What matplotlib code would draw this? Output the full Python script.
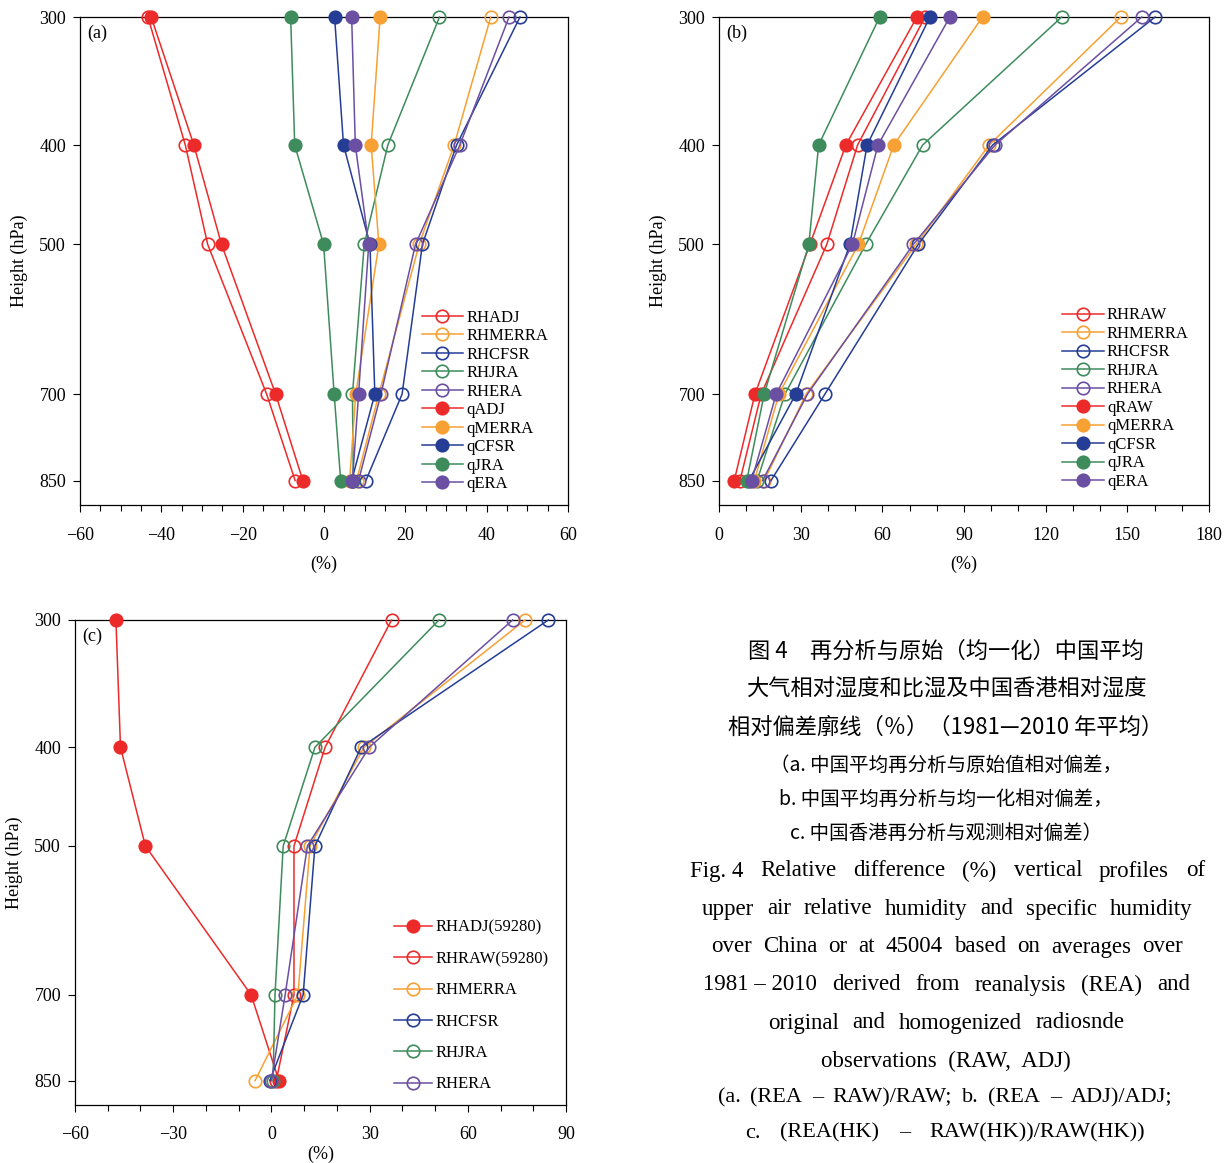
import matplotlib
matplotlib.use("Agg")
import matplotlib.pyplot as plt
from matplotlib.ticker import MultipleLocator, NullLocator, FixedLocator

plt.rcParams['font.family'] = ['Liberation Serif', 'DejaVu Serif']
plt.rcParams['axes.unicode_minus'] = True

levels = [300, 400, 500, 700, 850]
level_labels = ["300", "400", "500", "700", "850"]

# ---- panel (a): (REA - RAW)/RAW ----
a_RHADJ = [-43.3, -34.1, -28.6, -14.1, -7.1]
a_RHMERRA = [41.0, 32.0, 23.4, 13.5, 8.0]
a_RHCFSR = [48.2, 32.6, 24.2, 19.2, 10.3]
a_RHJRA = [28.4, 15.7, 9.9, 7.0, 7.2]
a_RHERA = [45.5, 33.4, 22.5, 14.0, 8.5]
a_qADJ = [-42.5, -32.0, -25.2, -11.9, -5.2]
a_qMERRA = [13.8, 11.6, 13.5, 7.8, 6.3]
a_qCFSR = [2.6, 4.8, 11.3, 12.5, 6.8]
a_qJRA = [-8.2, -7.2, -0.1, 2.5, 4.1]
a_qERA = [6.8, 7.7, 11.0, 8.5, 7.0]

# ---- panel (b): (REA - ADJ)/ADJ ----
b_RHRAW = [75.7, 50.9, 39.6, 15.5, 7.7]
b_RHMERRA = [147.6, 99.2, 72.4, 32.0, 16.6]
b_RHCFSR = [160.2, 100.5, 73.2, 38.9, 19.1]
b_RHJRA = [125.9, 74.8, 53.9, 24.2, 14.0]
b_RHERA = [155.3, 101.4, 71.4, 32.5, 16.0]
b_qRAW = [72.7, 46.6, 33.4, 13.2, 5.6]
b_qMERRA = [96.8, 64.2, 51.2, 22.0, 13.0]
b_qCFSR = [77.5, 54.4, 48.1, 28.2, 11.0]
b_qJRA = [59.0, 36.6, 33.0, 16.6, 10.2]
b_qERA = [84.8, 58.4, 49.0, 21.0, 12.0]

# ---- panel (c): Hong Kong ----
c_RHADJ = [-47.5, -46.1, -38.5, -6.2, 2.3]
c_RHRAW = [36.7, 16.4, 6.9, 6.9, 1.5]
c_RHMERRA = [77.5, 28.3, 11.8, 8.1, -5.0]
c_RHCFSR = [84.6, 27.4, 13.3, 9.7, -0.5]
c_RHJRA = [51.2, 13.3, 3.6, 1.1, 0.5]
c_RHERA = [73.7, 29.9, 11.0, 4.2, 0.0]

RED = '#ED2A2A'
ORANGE = '#F7A033'
BLUE = '#253D95'
GREEN = '#3E8B5C'
PURPLE = '#6A4FA2'

W, H = 1232, 1163
fig = plt.figure(figsize=(W / 100, H / 100), dpi=100)


def axes_px(l, t, r, b):
    return fig.add_axes([l / W, 1 - b / H, (r - l) / W, (b - t) / H])


def draw(ax, x, color, filled, label):
    ax.plot(x, levels, color=color, lw=1.1, marker='o', ms=9,
            mfc=color if filled else 'none', mec=color, mew=1.2,
            label=label, clip_on=False, zorder=3)


def style(ax, xmin, xmax, major, minor, tag, xpad, xlabpad):
    ax.set_yscale('log')
    ax.set_ylim(898, 300)
    ax.yaxis.set_major_locator(FixedLocator(levels))
    ax.yaxis.set_minor_locator(NullLocator())
    ax.set_yticklabels(level_labels)
    ax.set_xlim(xmin, xmax)
    ax.xaxis.set_major_locator(MultipleLocator(major))
    ax.xaxis.set_minor_locator(MultipleLocator(minor))
    ax.tick_params(axis='both', which='major', direction='out', length=5,
                   width=0.8, labelsize=13)
    ax.tick_params(axis='x', which='major', pad=xpad)
    ax.tick_params(axis='y', which='major', pad=5)
    ax.tick_params(axis='both', which='minor', direction='out', length=4,
                   width=0.8)
    for s in ax.spines.values():
        s.set_linewidth(0.9)
    ax.set_xlabel('(%)', fontsize=13, labelpad=xlabpad)
    ax.set_ylabel('Height (hPa)', fontsize=13, labelpad=8)
    ax.text(0.015, 0.985, tag, transform=ax.transAxes, ha='left', va='top',
            fontsize=13)


leg_kw = dict(loc='upper left', frameon=False, fontsize=12,
              handletextpad=0.2, borderpad=0, borderaxespad=0)

# Panel (a)
axa = axes_px(80, 17, 568, 505)
draw(axa, a_RHADJ, RED, False, 'RHADJ')
draw(axa, a_RHMERRA, ORANGE, False, 'RHMERRA')
draw(axa, a_RHCFSR, BLUE, False, 'RHCFSR')
draw(axa, a_RHJRA, GREEN, False, 'RHJRA')
draw(axa, a_RHERA, PURPLE, False, 'RHERA')
draw(axa, a_qADJ, RED, True, 'qADJ')
draw(axa, a_qMERRA, ORANGE, True, 'qMERRA')
draw(axa, a_qCFSR, BLUE, True, 'qCFSR')
draw(axa, a_qJRA, GREEN, True, 'qJRA')
draw(axa, a_qERA, PURPLE, True, 'qERA')
style(axa, -60, 60, 20, 5, '(a)', 11, 8)
axa.legend(bbox_to_anchor=(0.70, 0.40), labelspacing=0.15,
           handlelength=2.5, **leg_kw)

# Panel (b)
axb = axes_px(719, 17, 1209, 505)
draw(axb, b_RHRAW, RED, False, 'RHRAW')
draw(axb, b_RHMERRA, ORANGE, False, 'RHMERRA')
draw(axb, b_RHCFSR, BLUE, False, 'RHCFSR')
draw(axb, b_RHJRA, GREEN, False, 'RHJRA')
draw(axb, b_RHERA, PURPLE, False, 'RHERA')
draw(axb, b_qRAW, RED, True, 'qRAW')
draw(axb, b_qMERRA, ORANGE, True, 'qMERRA')
draw(axb, b_qCFSR, BLUE, True, 'qCFSR')
draw(axb, b_qJRA, GREEN, True, 'qJRA')
draw(axb, b_qERA, PURPLE, True, 'qERA')
style(axb, 0, 180, 30, 10, '(b)', 11, 8)
axb.legend(bbox_to_anchor=(0.70, 0.405), labelspacing=0.15,
           handlelength=2.5, **leg_kw)

# Panel (c)
axc = axes_px(75, 620, 566, 1105)
draw(axc, c_RHADJ, RED, True, 'RHADJ(59280)')
draw(axc, c_RHRAW, RED, False, 'RHRAW(59280)')
draw(axc, c_RHMERRA, ORANGE, False, 'RHMERRA')
draw(axc, c_RHCFSR, BLUE, False, 'RHCFSR')
draw(axc, c_RHJRA, GREEN, False, 'RHJRA')
draw(axc, c_RHERA, PURPLE, False, 'RHERA')
style(axc, -60, 90, 30, 10, '(c)', 10, 2)
axc.legend(bbox_to_anchor=(0.65, 0.382), labelspacing=0.92,
           handlelength=2.3, **leg_kw)

# Caption
cjk = ['Noto Sans CJK SC', 'DejaVu Sans']
ser = ['Liberation Serif', 'DejaVu Serif']
xc = 946 / W


def cap(y, s, size, fam):
    fig.text(xc, 1 - y / H, s, ha='center', va='center', fontsize=size,
             family=fam)


renderer = fig.canvas.get_renderer()


def justify(y, tokens, size, x0=690, x1=1205, fam=ser):
    objs = [fig.text(0, 1 - y / H, t, ha='left', va='center', fontsize=size,
                     family=fam) for t in tokens]
    widths = [o.get_window_extent(renderer).width for o in objs]
    gap = ((x1 - x0) - sum(widths)) / (len(tokens) - 1)
    x = x0
    for o, w in zip(objs, widths):
        o.set_x(x / W)
        x += w + gap


cap(651, '图 4　再分析与原始（均一化）中国平均', 16, cjk)
cap(689, '大气相对湿度和比湿及中国香港相对湿度', 16, cjk)
cap(727, '相对偏差廓线（％）（1981—2010 年平均）', 16, cjk)
cap(765, '（a. 中国平均再分析与原始值相对偏差，', 14, cjk)
cap(799, 'b. 中国平均再分析与均一化相对偏差，', 14, cjk)
cap(833, 'c. 中国香港再分析与观测相对偏差）', 14, cjk)
justify(871, ['Fig. 4', 'Relative', 'difference', '(%)', 'vertical',
              'profiles', 'of'], 16.5)
justify(909, ['upper', 'air', 'relative', 'humidity', 'and', 'specific',
              'humidity'], 16.5, 702, 1192)
justify(947, ['over', 'China', 'or', 'at', '45004', 'based', 'on',
              'averages', 'over'], 16.5, 711, 1183)
justify(985, ['1981 – 2010', 'derived', 'from', 'reanalysis', '(REA)',
              'and'], 16.5, 703, 1190)
justify(1023, ['original', 'and', 'homogenized', 'radiosnde'], 16.5, 768, 1125)
cap(1061, 'observations  (RAW,  ADJ)', 16.5, ser)
justify(1098, ['(a.', '(REA', '–', 'RAW)/RAW;', 'b.', '(REA', '–',
               'ADJ)/ADJ;'], 16, 718, 1172)
justify(1133, ['c.', '(REA(HK)', '–', 'RAW(HK))/RAW(HK))'], 16, 745, 1145)

fig.savefig('out.png', dpi=100)
